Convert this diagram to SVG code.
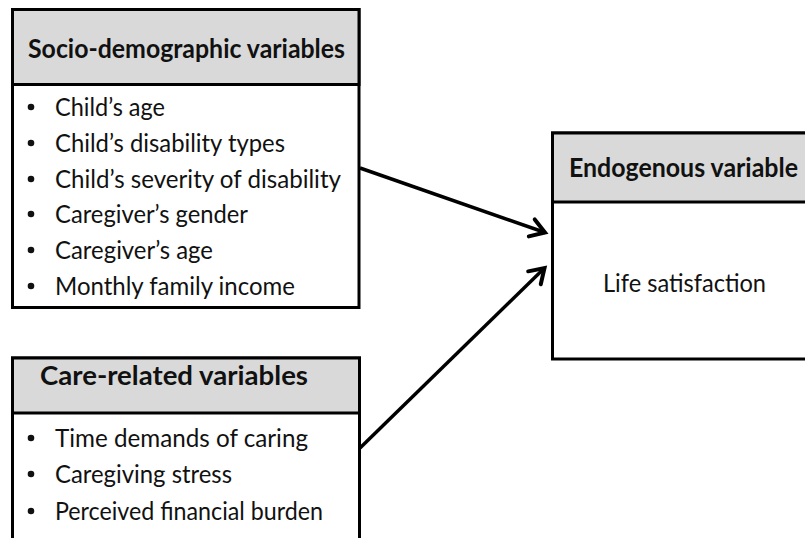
<svg xmlns="http://www.w3.org/2000/svg" width="805" height="538" viewBox="0 0 805 538">
  <style>
    .box { fill: #ffffff; stroke: #000000; stroke-width: 3; }
    .hdr { fill: #d9d9d9; stroke: #000000; stroke-width: 3; }
    .ht { font-family: Lato, "Liberation Sans", sans-serif; font-weight: bold; font-size: 26px; fill: #111111; }
    .it { font-family: Lato, "Liberation Sans", sans-serif; font-size: 25px; fill: #111111; }
    .bul { fill: #111111; }
    .conn { fill: none; stroke: #000000; stroke-width: 3.5; }
  </style>
  <defs>
    <marker id="arr" markerUnits="userSpaceOnUse" viewBox="-20 -12 24 24" refX="0" refY="0" markerWidth="24" markerHeight="24" orient="auto">
      <path d="M -14 -9 L 0 0 L -14 9" fill="none" stroke="#000000" stroke-width="4" stroke-linecap="round" stroke-linejoin="miter"/>
    </marker>
  </defs>
  <rect width="805" height="538" fill="#ffffff"/>

  <g id="socio">
    <rect class="box" x="12.5" y="9.5" width="346.5" height="298"/>
    <rect class="hdr" x="12.5" y="9.5" width="346.5" height="75"/>
    <text class="ht" x="28" y="58" textLength="317" lengthAdjust="spacingAndGlyphs">Socio-demographic variables</text>
    <circle class="bul" cx="31" cy="107" r="3.3"/>
    <text class="it" x="55" y="116" textLength="110" lengthAdjust="spacingAndGlyphs">Child’s age</text>
    <circle class="bul" cx="31" cy="143" r="3.3"/>
    <text class="it" x="55" y="152" textLength="230" lengthAdjust="spacingAndGlyphs">Child’s disability types</text>
    <circle class="bul" cx="31" cy="179" r="3.3"/>
    <text class="it" x="55" y="188" textLength="286" lengthAdjust="spacingAndGlyphs">Child’s severity of disability</text>
    <circle class="bul" cx="31" cy="214" r="3.3"/>
    <text class="it" x="55" y="223" textLength="193" lengthAdjust="spacingAndGlyphs">Caregiver’s gender</text>
    <circle class="bul" cx="31" cy="250" r="3.3"/>
    <text class="it" x="55" y="259" textLength="158" lengthAdjust="spacingAndGlyphs">Caregiver’s age</text>
    <circle class="bul" cx="31" cy="286" r="3.3"/>
    <text class="it" x="55" y="295" textLength="240" lengthAdjust="spacingAndGlyphs">Monthly family income</text>
  </g>

  <g id="care">
    <rect class="box" x="12.5" y="358" width="347" height="200"/>
    <rect class="hdr" x="12.5" y="358" width="347" height="55"/>
    <text class="ht" x="40" y="385" textLength="268" lengthAdjust="spacingAndGlyphs">Care-related variables</text>
    <circle class="bul" cx="31" cy="438" r="3.3"/>
    <text class="it" x="55" y="447" textLength="253" lengthAdjust="spacingAndGlyphs">Time demands of caring</text>
    <circle class="bul" cx="31" cy="474" r="3.3"/>
    <text class="it" x="55" y="483" textLength="177" lengthAdjust="spacingAndGlyphs">Caregiving stress</text>
    <circle class="bul" cx="31" cy="511" r="3.3"/>
    <text class="it" x="55" y="520" textLength="268" lengthAdjust="spacingAndGlyphs">Perceived financial burden</text>
  </g>

  <g id="endo">
    <rect class="box" x="552.5" y="133" width="270" height="226"/>
    <rect class="hdr" x="552.5" y="133" width="270" height="69"/>
    <text class="ht" x="569" y="177" textLength="229" lengthAdjust="spacingAndGlyphs">Endogenous variable</text>
    <text class="it" x="603" y="292" textLength="163" lengthAdjust="spacingAndGlyphs">Life satisfaction</text>
  </g>

  <g id="connectors">
    <path class="conn" d="M 360 168 L 545 232.5" marker-end="url(#arr)"/>
    <path class="conn" d="M 360 448 L 544.5 268" marker-end="url(#arr)"/>
  </g>
</svg>
